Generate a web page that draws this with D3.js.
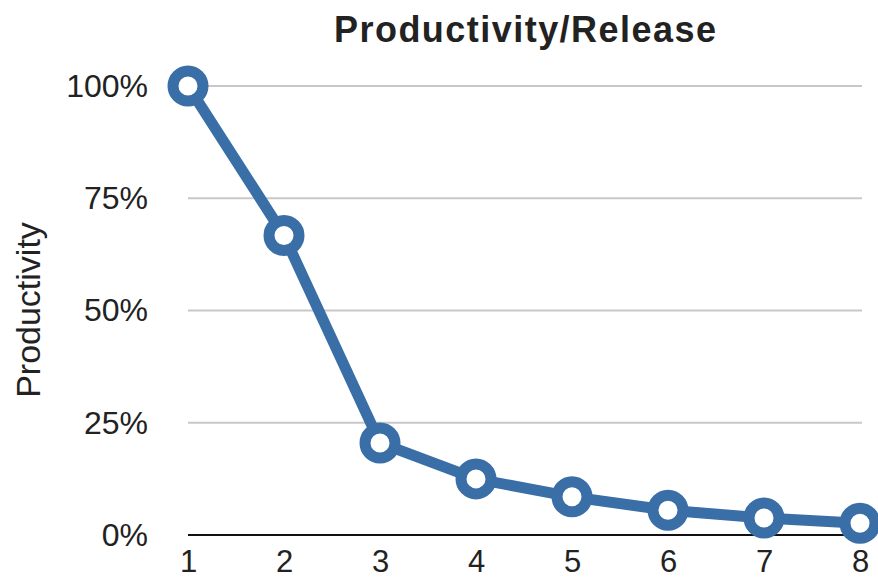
<!DOCTYPE html>
<html>
<head>
<meta charset="utf-8">
<script src="https://cdn.jsdelivr.net/npm/d3@7"></script>
<style>
  body { margin: 0; background: #fff; }
  text { font-family: "Liberation Sans", Arial, Helvetica, sans-serif; fill: #222; }
</style>
</head>
<body>
<div id="chart"></div>
<script>
// data
var releases = [1, 2, 3, 4, 5, 6, 7, 8];
var productivity = [100, 66.7, 20.5, 12.5, 8.5, 5.5, 3.8, 2.6];
var yTicks = [0, 25, 50, 75, 100];

var width = 878, height = 583;
var margin = {top: 86, right: 18, bottom: 47, left: 188};

var svg = d3.select("#chart")
  .append("svg")
    .attr("width", width)
    .attr("height", height);

var x = d3.scalePoint()
  .domain(releases)
  .range([margin.left, width - margin.right]);

var y = d3.scaleLinear()
  .domain([0, 100])
  .range([height - margin.bottom - 1, margin.top]);

// gridlines
svg.append("g")
  .selectAll("line")
  .data(yTicks.filter(function(d) { return d > 0; }))
  .join("line")
    .attr("x1", margin.left)
    .attr("x2", width - margin.right + 2)
    .attr("y1", function(d) { return y(d); })
    .attr("y2", function(d) { return y(d); })
    .attr("stroke", "#c8c8c8")
    .attr("stroke-width", 2);

// baseline
svg.append("line")
  .attr("x1", margin.left)
  .attr("x2", width - margin.right + 2)
  .attr("y1", y(0))
  .attr("y2", y(0))
  .attr("stroke", "#111")
  .attr("stroke-width", 2);

// y-axis labels
var yAxis = svg.append("g")
  .attr("transform", "translate(" + (margin.left - 14) + ",0)")
  .call(d3.axisLeft(y).tickValues(yTicks).tickSize(0).tickPadding(26)
    .tickFormat(function(d) { return d + "%"; }));
yAxis.select(".domain").remove();
yAxis.selectAll("text")
  .style("font-size", "32px")
  .style("font-family", "'Liberation Sans', Arial, sans-serif")
  .attr("fill", "#222");

// x-axis labels
var xAxis = svg.append("g")
  .attr("transform", "translate(0," + y(0) + ")")
  .call(d3.axisBottom(x).tickSize(0).tickPadding(15));
xAxis.select(".domain").remove();
xAxis.selectAll("text")
  .style("font-size", "31px")
  .style("font-family", "'Liberation Sans', Arial, sans-serif")
  .attr("fill", "#222");

// title
svg.append("text")
  .attr("x", 525)
  .attr("y", 42)
  .attr("text-anchor", "middle")
  .style("font-size", "36px")
  .style("font-weight", "bold")
  .attr("textLength", 382)
  .text("Productivity/Release");

// y-axis title
svg.append("text")
  .attr("transform", "translate(40,310) rotate(-90)")
  .attr("text-anchor", "middle")
  .style("font-size", "34px")
  .text("Productivity");

var line = d3.line()
  .x(function(d, i) { return x(releases[i]); })
  .y(function(d) { return y(d); });

svg.append("path")
  .datum(productivity)
  .attr("fill", "none")
  .attr("stroke", "#3a6ea6")
  .attr("stroke-width", 11)
  .attr("stroke-linejoin", "round")
  .attr("d", line);

svg.append("g")
  .selectAll("circle")
  .data(productivity)
  .join("circle")
    .attr("cx", function(d, i) { return x(releases[i]); })
    .attr("cy", function(d) { return y(d); })
    .attr("r", 15)
    .attr("fill", "#fff")
    .attr("stroke", "#3a6ea6")
    .attr("stroke-width", 11);
</script>
</body>
</html>
